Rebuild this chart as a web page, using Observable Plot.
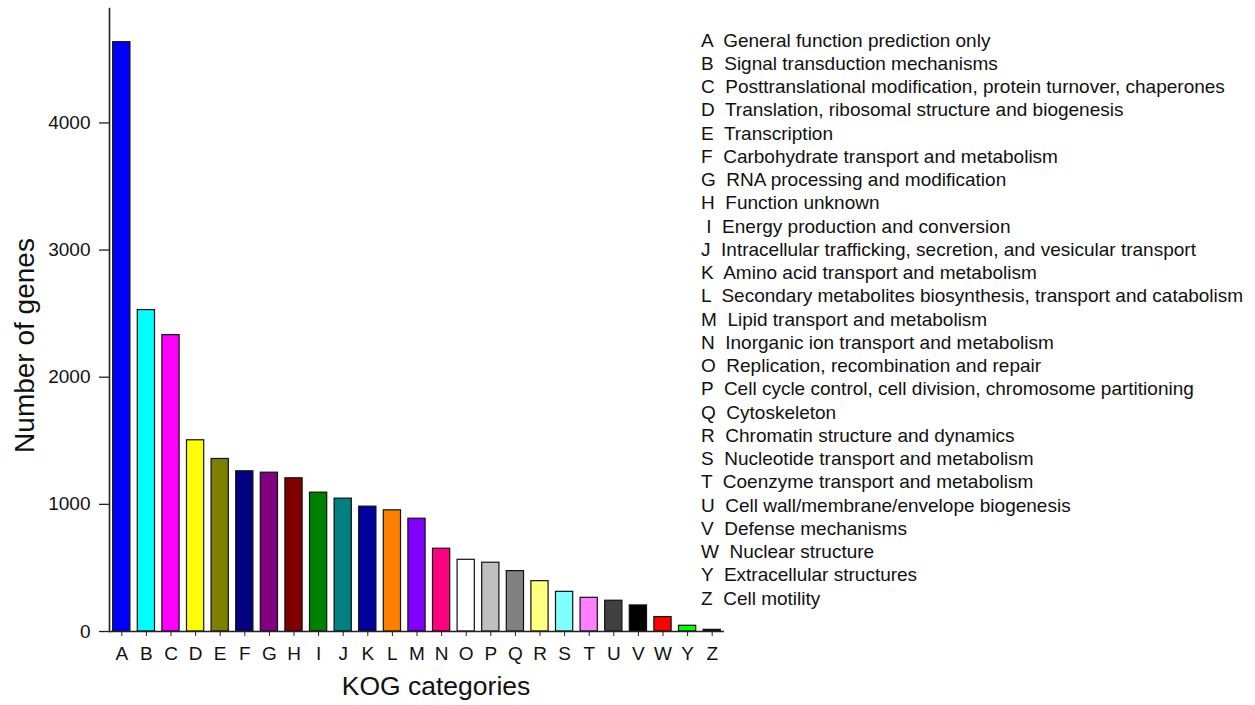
<!DOCTYPE html>
<html><head><meta charset="utf-8">
<script src="https://cdn.jsdelivr.net/npm/d3@7"></script>
<script src="https://cdn.jsdelivr.net/npm/@observablehq/plot@0.6"></script>
<style>
body{margin:0;background:#fff;font-family:"Liberation Sans",Arial,sans-serif;}
#wrap{position:relative;width:1255px;height:705px;}
#legend{position:absolute;left:701px;top:28.5px;font-size:19px;line-height:23.25px;white-space:pre;color:#111;}
</style></head><body><div id="wrap"><div id="chart"></div><div id="legend"></div></div>
<script>
const categories = ["A","B","C","D","E","F","G","H","I","J","K","L","M","N","O","P","Q","R","S","T","U","V","W","Y","Z"];
const counts = [4635,2528,2331,1504,1357,1260,1249,1205,1092,1045,982,953,887,651,564,541,475,396,312,265,242,205,113,45,13];
const colors = ["#0000FF","#00FFFF","#FF00FF","#FFFF00","#808000","#000080","#800080","#800000","#008000","#008080","#0000A0","#FF8000","#8000FF","#FF0080","#FFFFFF","#C0C0C0","#808080","#FFFF80","#80FFFF","#FF80FF","#404040","#000000","#FF0000","#00FF00","#000000"];
const descriptions = [
"General function prediction only",
"Signal transduction mechanisms",
"Posttranslational modification, protein turnover, chaperones",
"Translation, ribosomal structure and biogenesis",
"Transcription",
"Carbohydrate transport and metabolism",
"RNA processing and modification",
"Function unknown",
"Energy production and conversion",
"Intracellular trafficking, secretion, and vesicular transport",
"Amino acid transport and metabolism",
"Secondary metabolites biosynthesis, transport and catabolism",
"Lipid transport and metabolism",
"Inorganic ion transport and metabolism",
"Replication, recombination and repair",
"Cell cycle control, cell division, chromosome partitioning",
"Cytoskeleton",
"Chromatin structure and dynamics",
"Nucleotide transport and metabolism",
"Coenzyme transport and metabolism",
"Cell wall/membrane/envelope biogenesis",
"Defense mechanisms",
"Nuclear structure",
"Extracellular structures",
"Cell motility"
];
const yTicks = [0,1000,2000,3000,4000];
const xTitle = "KOG categories";
const yTitle = "Number of genes";

const data = categories.map((c,i)=>({cat:c, n:counts[i], color:colors[i]}));

const chart = Plot.plot({
  width:1255, height:705,
  marginLeft:109, marginRight:531, marginTop:8, marginBottom:74,
  style:{fontFamily:"'Liberation Sans', Arial, sans-serif", fontSize:"19px", color:"#111", background:"white", overflow:"visible"},
  x:{domain:categories, paddingInner:0.3, paddingOuter:0.15, round:false},
  y:{domain:[0,4900]},
  color:{type:"identity"},
  marks:[
    Plot.barY(data,{x:"cat", y:"n", fill:"color", stroke:"#111", strokeWidth:1.2}),
    Plot.axisX({tickSize:5, tickPadding:10, label:null, stroke:"#222"}),
    Plot.axisY({ticks:yTicks, tickSize:10, tickPadding:9, label:null, tickFormat:d=>String(d), stroke:"#222", strokeWidth:1.3}),
    Plot.ruleY([0], {stroke:"#222", strokeWidth:1.6}),
    Plot.frame({anchor:"left", stroke:"#222", strokeWidth:1.6}),
    Plot.text([xTitle], {frameAnchor:"bottom", lineAnchor:"bottom", dx:19, dy:63, fontSize:26.5, fill:"#111"}),
    Plot.text([yTitle], {frameAnchor:"left", textAnchor:"middle", lineAnchor:"bottom", rotate:-90, dx:-76, dy:25.5, fontSize:28, fill:"#111"})
  ]
});
document.getElementById("chart").appendChild(chart);

const legend = document.getElementById("legend");
legend.textContent = categories.map((c,i)=>(c==="I"?" ":"") + c + "  " + descriptions[i]).join("\n");
</script>
</body></html>
